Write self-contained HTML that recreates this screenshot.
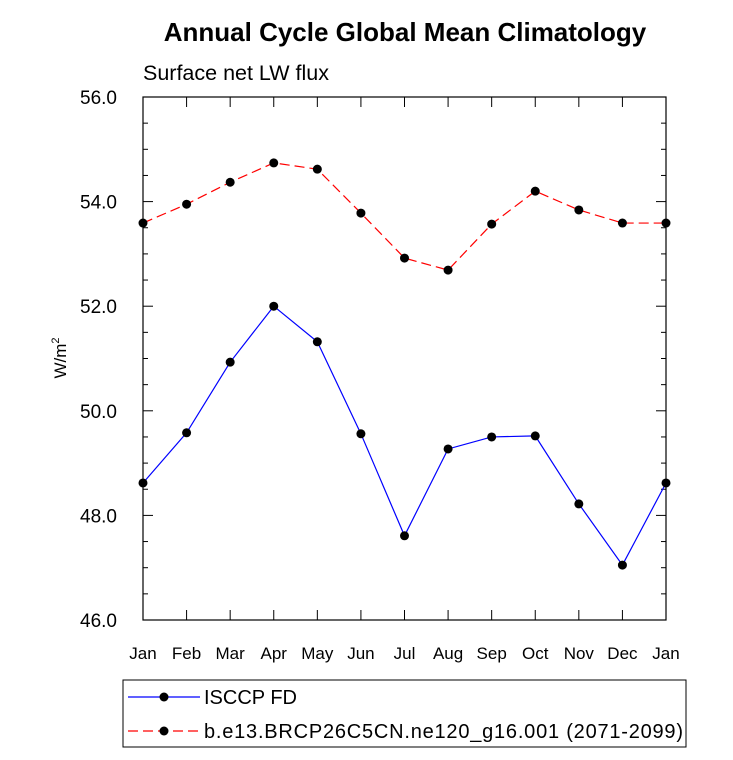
<!DOCTYPE html>
<html><head><meta charset="utf-8"><style>
body{margin:0;background:#fff;}
svg text{font-family:"Liberation Sans",sans-serif;}
</style></head><body>
<svg width="733" height="755" id="chart">
<text x="405" y="41" font-size="26" font-weight="bold" text-anchor="middle">Annual Cycle Global Mean Climatology</text>
<text x="143" y="80" font-size="21.5">Surface net LW flux</text>
<text transform="translate(66,358) rotate(-90)" font-size="17" text-anchor="middle">W/m<tspan font-size="11" dy="-7">2</tspan></text>
<rect x="143" y="97" width="523" height="523" fill="none" stroke="#000" stroke-width="1.2"/>
<g id="axes"></g>
<g id="series"></g>
<g>
<rect x="123" y="680" width="563" height="67" fill="none" stroke="#000" stroke-width="1"/>
<line x1="128" y1="697" x2="200" y2="697" stroke="#00f" stroke-width="1.2"/>
<circle cx="164" cy="697" r="4.5" fill="#000"/>
<text x="204" y="704" font-size="20">ISCCP FD</text>
<line x1="128" y1="731" x2="200" y2="731" stroke="#f00" stroke-width="1.2" stroke-dasharray="10,5"/>
<circle cx="164" cy="731" r="4.5" fill="#000"/>
<text x="204" y="738" font-size="20" textLength="479">b.e13.BRCP26C5CN.ne120_g16.001 (2071-2099)</text>
</g>
</svg>
<script>
const months=["Jan","Feb","Mar","Apr","May","Jun","Jul","Aug","Sep","Oct","Nov","Dec","Jan"];
const isccp=[48.62,49.58,50.93,52.0,51.32,49.56,47.61,49.27,49.50,49.52,48.22,47.05,48.62];
const model=[53.59,53.95,54.37,54.74,54.62,53.78,52.92,52.69,53.57,54.20,53.84,53.59,53.59];
const yTicks=[46,48,50,52,54,56];
const yMin=46,yMax=56;
const X0=143,X1=666,Y0=620,Y1=97;
const NS="http://www.w3.org/2000/svg";
function xs(i){return X0+(X1-X0)*i/(months.length-1);}
function ys(v){return Y0-(v-yMin)/(yMax-yMin)*(Y0-Y1);}
function mk(t,a,p){const e=document.createElementNS(NS,t);for(const k in a)e.setAttribute(k,a[k]);p.appendChild(e);return e;}
const ax=document.getElementById("axes");
months.forEach((m,i)=>{
 const x=xs(i);
 mk("line",{x1:x,y1:Y0,x2:x,y2:Y0-10,stroke:"#000"},ax);
 mk("line",{x1:x,y1:Y1,x2:x,y2:Y1+10,stroke:"#000"},ax);
 const t=mk("text",{x:x,y:Y0+39,"font-size":17,"text-anchor":"middle"},ax);
 
 
 t.textContent=m;
});
for(let v=yMin;v<=yMax+1e-9;v+=0.5){
 const y=ys(v);const major=Math.abs(v/2-Math.round(v/2))<1e-9;const L=major?10:5;
 mk("line",{x1:X0,y1:y,x2:X0+L,y2:y,stroke:"#000"},ax);
 mk("line",{x1:X1,y1:y,x2:X1-L,y2:y,stroke:"#000"},ax);
}
yTicks.forEach(v=>{
 const t=mk("text",{x:X0-26,y:ys(v)+7,"font-size":19,"text-anchor":"end"},ax);
 
 
 t.textContent=v.toFixed(1);
});
const sg=document.getElementById("series");
function draw(vals,color,dash,name){
 const pl=mk("polyline",{points:vals.map((v,i)=>xs(i)+","+ys(v)).join(" "),fill:"none",stroke:color,"stroke-width":1.2},sg);
 if(dash)pl.setAttribute("stroke-dasharray",dash);
 
 
 vals.forEach((v,i)=>{
  const c=mk("circle",{cx:xs(i),cy:ys(v),r:4.5,fill:"#000"},sg);
  
  
 });
}
draw(isccp,"#00f",null,"isccp");
draw(model,"#f00","10,5","model");
</script>
</body></html>
